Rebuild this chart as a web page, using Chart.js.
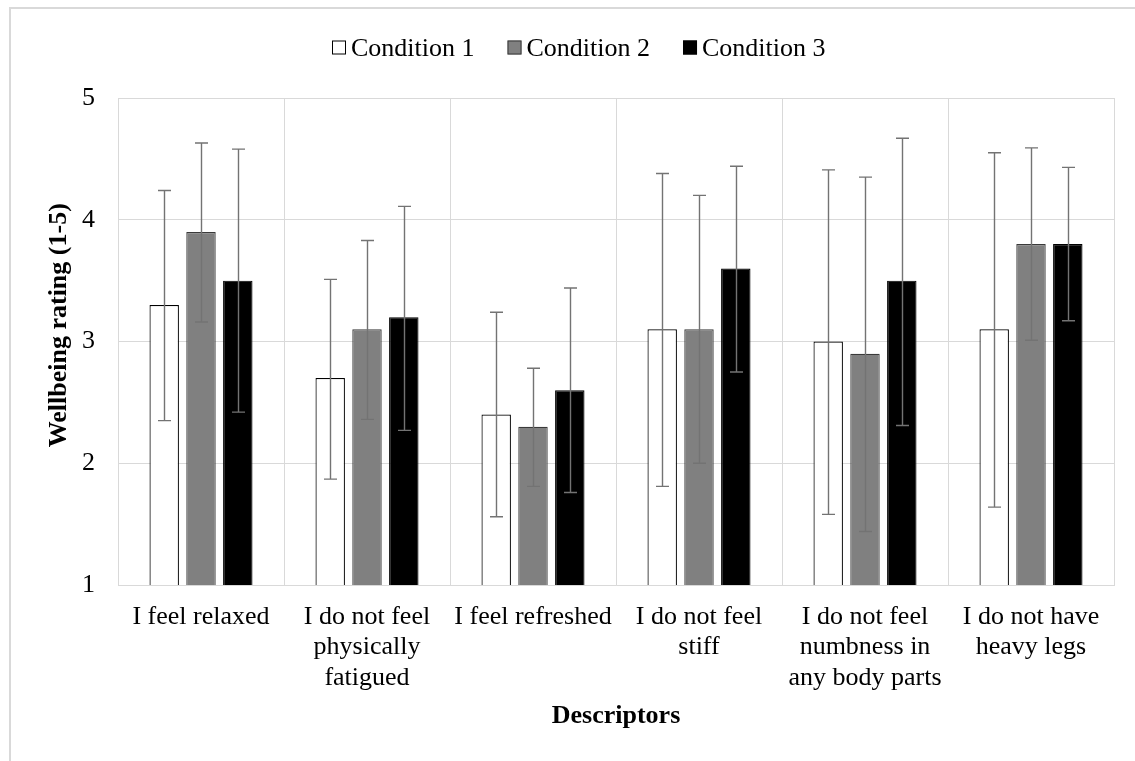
<!DOCTYPE html>
<html><head><meta charset="utf-8">
<script src="https://cdn.jsdelivr.net/npm/chart.js@4/dist/chart.umd.min.js"></script>
<style>
html,body{margin:0;padding:0;background:#fff;overflow:hidden;width:1135px;height:761px;}
#frame{position:absolute;left:9px;top:7px;width:1300px;height:900px;border-top:2px solid #d9d9d9;border-left:2px solid #d9d9d9;}
#wrap{position:absolute;left:0;top:0;width:1135px;height:761px;}
</style></head><body>
<div id="frame"></div>
<div id="wrap"><canvas id="c"></canvas></div>
<script>
const categories = [
  "I feel relaxed",
  ["I do not feel", "physically", "fatigued"],
  "I feel refreshed",
  ["I do not feel", "stiff"],
  ["I do not feel", "numbness in", "any body parts"],
  ["I do not have", "heavy legs"]
];
const seriesNames = ["Condition 1", "Condition 2", "Condition 3"];
const cond1 = [3.3, 2.7, 2.4, 3.1, 3.0, 3.1];
const cond2 = [3.9, 3.1, 2.3, 3.1, 2.9, 3.8];
const cond3 = [3.5, 3.2, 2.6, 3.6, 3.5, 3.8];
const cond1Upper = [4.24, 3.51, 3.24, 4.38, 4.41, 4.55];
const cond1Lower = [2.35, 1.87, 1.56, 1.81, 1.58, 1.64];
const cond2Upper = [4.63, 3.83, 2.78, 4.20, 4.35, 4.59];
const cond2Lower = [3.16, 2.36, 1.81, 2.00, 1.44, 3.01];
const cond3Upper = [4.58, 4.11, 3.44, 4.44, 4.67, 4.43];
const cond3Lower = [2.42, 2.27, 1.76, 2.75, 2.31, 3.17];
const yTicks = [1, 2, 3, 4, 5];

const FONT = '"Liberation Serif", "Times New Roman", serif';

const errorBarPlugin = {
  id: 'errorBars',
  afterDatasetsDraw(chart, args, opts) {
    const ctx = chart.ctx, y = chart.scales.y;
    ctx.save();
    ctx.strokeStyle = opts.color;
    ctx.lineWidth = opts.width;
    chart.data.datasets.forEach((ds, di) => {
      const meta = chart.getDatasetMeta(di);
      if (meta.hidden) return;
      meta.data.forEach((bar, i) => {
        const x = Math.round(bar.x) + 0.5;
        const yt = y.getPixelForValue(ds.errUpper[i]);
        const yb = y.getPixelForValue(ds.errLower[i]);
        const h = opts.capHalf;
        ctx.beginPath();
        ctx.moveTo(x, yt); ctx.lineTo(x, yb);
        ctx.moveTo(x - h, yt); ctx.lineTo(x + h, yt);
        ctx.moveTo(x - h, yb); ctx.lineTo(x + h, yb);
        ctx.stroke();
      });
    });
    ctx.restore();
  }
};

const customLegend = {
  id: 'customLegend',
  afterDraw(chart, args, opts) {
    const ctx = chart.ctx;
    ctx.save();
    ctx.font = opts.font;
    ctx.textBaseline = 'alphabetic';
    ctx.textAlign = 'left';
    let x = opts.left;
    chart.data.datasets.forEach((ds) => {
      const b = opts.box;
      ctx.fillStyle = ds.backgroundColor;
      ctx.fillRect(x, opts.boxTop, b, b);
      ctx.strokeStyle = ds.borderColor;
      ctx.lineWidth = 1;
      ctx.strokeRect(x + 0.5, opts.boxTop + 0.5, b - 1, b - 1);
      x += b + opts.boxGap;
      ctx.fillStyle = '#000';
      ctx.fillText(ds.label, x, opts.baseline);
      x += ctx.measureText(ds.label).width + opts.itemGap;
    });
    ctx.restore();
  }
};

new Chart(document.getElementById('c'), {
  type: 'bar',
  data: {
    labels: categories,
    datasets: [
      { label: seriesNames[0], data: cond1, errUpper: cond1Upper, errLower: cond1Lower,
        backgroundColor: '#ffffff', borderColor: '#000000', borderWidth: 1.2 },
      { label: seriesNames[1], data: cond2, errUpper: cond2Upper, errLower: cond2Lower,
        backgroundColor: '#808080', borderColor: '#3a3a3a', borderWidth: 1.2 },
      { label: seriesNames[2], data: cond3, errUpper: cond3Upper, errLower: cond3Lower,
        backgroundColor: '#000000', borderColor: '#000000', borderWidth: 1.2 }
    ]
  },
  options: {
    responsive: true,
    maintainAspectRatio: false,
    animation: false,
    categoryPercentage: 0.665,
    barPercentage: 0.8,
    layout: { padding: { top: 98, right: 21, left: 0, bottom: 0 } },
    plugins: {
      legend: { display: false },
      tooltip: { enabled: false },
      errorBars: { color: '#737373', width: 1.4, capHalf: 6.5 },
      customLegend: { font: '26px ' + FONT, left: 332, boxTop: 40.5, box: 14, boxGap: 5, itemGap: 33, baseline: 56 }
    },
    scales: {
      x: {
        offset: true,
        grid: { offset: true, color: '#d9d9d9', lineWidth: 1, drawTicks: false },
        border: { display: true, color: '#d9d9d9' },
        ticks: { color: '#000', font: { family: FONT, size: 26, lineHeight: 1.17 }, padding: 17, autoSkip: false, maxRotation: 0, minRotation: 0 },
        title: { display: true, text: 'Descriptors', color: '#000', font: { family: FONT, size: 26, weight: 'bold' }, padding: { top: 0, bottom: 29 } },
        afterFit(scale) { scale.height = 176; }
      },
      y: {
        min: 1, max: 5, beginAtZero: false,
        grid: { color: '#d9d9d9', lineWidth: 1, drawTicks: false },
        border: { display: true, color: '#d9d9d9' },
        afterBuildTicks(scale) { scale.ticks = yTicks.map(v => ({ value: v })); },
        ticks: { color: '#000', font: { family: FONT, size: 26 }, padding: 23 },
        title: { display: true, text: '     Wellbeing rating (1-5)', color: '#000', font: { family: FONT, size: 26, weight: 'bold' }, padding: { top: 44, bottom: 0 } },
        afterFit(scale) { scale.width = 118; }
      }
    }
  },
  plugins: [errorBarPlugin, customLegend]
});
</script>
</body></html>
